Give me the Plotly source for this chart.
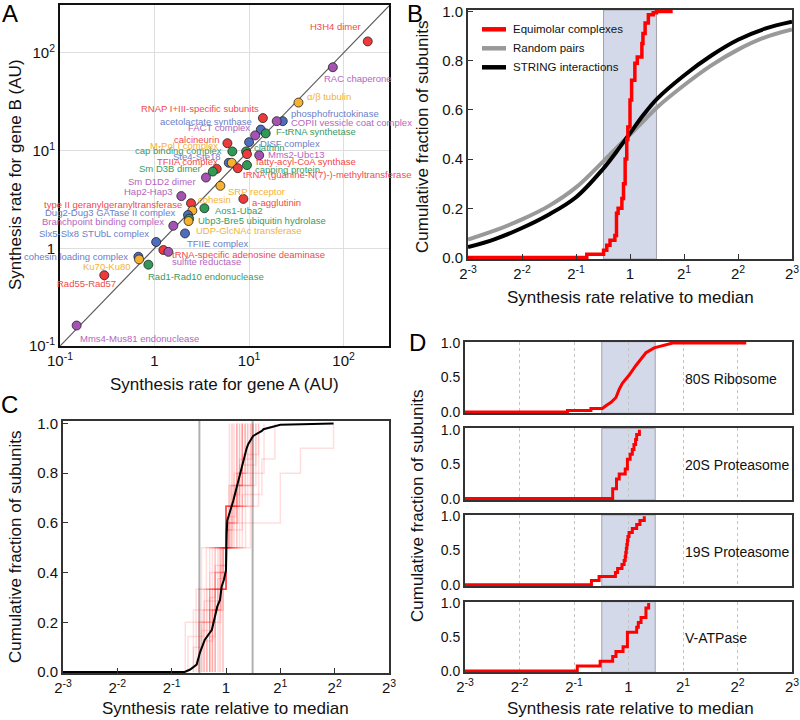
import numpy as np
import plotly.graph_objects as go

W, H = 800, 720

# ---------------- panel A: synthesis rates of the two genes in each pair
pair_names = [
    "H3H4 dimer", "RAC chaperone", "α/β tubulin", "RNAP I+III-specific subunits",
    "phosphofructokinase", "COPII vessicle coat complex", "acetolactate synthase",
    "F-tRNA synthetase", "FACT complex", "calcineurin", "DISF complex",
    "cap binding complex", "clathrin", "fatty-acyl-CoA synthase", "Mms2-Ubc13",
    "Ste4-Ste18", "M-Pol I complex", "capping protein",
    "tRNA (guanine-N(7)-)-methyltransferase", "TFIIA complex", "Sm D3B dimer",
    "Sm D1D2 dimer", "SRP receptor", "Hap2-Hap3", "a-agglutinin",
    "type II geranylgeranyltransferase", "cohesin", "Aos1-Uba2",
    "Dug2-Dug3 GATase II complex", "Ubp3-Bre5 ubiquitin hydrolase",
    "UDP-GlcNAc transferase", "Branchpoint binding complex", "TFIIE complex",
    "Slx5-Slx8 STUbL complex", "tRNA-specific adenosine deaminase",
    "sulfite reductase", "cohesin loading complex", "Ku70-Ku80",
    "Rad1-Rad10 endonuclease", "Rad55-Rad57", "Mms4-Mus81 endonuclease",
]
gene_a_rate = [180, 76.9, 33.3, 14.0, 22.7, 19.6, 13.3, 15.0, 11.6, 5.9, 10.0,
               6.65, 9.3, 9.5, 12.8, 6.1, 6.56, 9.5, 7.6, 4.55, 4.13,
               3.5, 4.97, 1.92, 8.7, 2.43, 2.51, 3.37, 2.26, 2.32,
               2.29, 1.58, 2.10, 1.04, 1.24, 1.40, 0.675, 0.686, 0.86, 0.294, 0.150]
gene_b_rate = [131, 71.3, 31.0, 21.5, 20.0, 20.0, 16.4, 15.0, 14.3, 11.9, 12.2,
               9.8, 9.8, 9.2, 8.95, 7.5, 7.5, 7.1, 6.6, 6.5, 6.1,
               5.3, 4.36, 3.42, 3.2, 2.89, 2.43, 2.57, 2.19, 2.01,
               1.90, 1.70, 1.42, 1.16, 0.96, 0.92, 0.82, 0.77, 0.68, 0.53, 0.162]
pair_group = ["red", "purple", "orange", "red", "blue", "purple", "blue",
              "green", "purple", "red", "blue", "green", "green", "red", "purple",
              "blue", "orange", "green", "red", "red", "green",
              "purple", "orange", "purple", "red", "red", "orange", "green",
              "blue", "green", "orange", "purple", "blue", "blue", "red",
              "purple", "blue", "orange", "green", "red", "purple"]

# where each label sits relative to its dot: anchor side, x shift, y shift (px)
label_pos = [("right", -5, 15), ("left", -11, -11), ("left", 7, 6), ("right", -2, 10),
             ("left", 6, 8), ("left", 12, -1), ("right", -7, 8), ("left", 8, 2),
             ("right", -3, 8), ("right", -6, 4), ("left", 9, -1), ("right", -8, 1),
             ("left", 6, 4), ("left", 7, -7), ("left", 7, 1), ("right", -6, 6),
             ("right", -12, 17), ("left", 6, -4), ("left", 3, -6), ("right", 3, 7),
             ("right", -10, 3), ("right", -8, -4), ("left", 6, -6), ("right", -6, 5),
             ("left", 7, -4), ("right", -7, -1), ("left", 4, 11), ("left", 9, -2),
             ("right", -11, 3), ("left", 7, -2), ("left", 5, -9), ("right", -7, 4),
             ("left", 0, -10), ("right", -5, 8), ("left", 7, -4), ("left", 2, -10),
             ("right", -8, 0), ("right", -6, -7), ("left", -2, -12), ("right", 14, -8),
             ("left", 1, -13)]

group_fill = {"red": "#ee3a3a", "blue": "#4e6dbf", "purple": "#a553b3",
              "green": "#2e9a55", "orange": "#f6b131"}
group_text = {"red": "#f14a4a", "blue": "#6b80c9", "purple": "#b565bd",
              "green": "#3b9a61", "orange": "#f4b236"}

# ---------------- panel B: cumulative distributions (x in log2 of rate / median)
smooth_log2 = [-3, -2.5, -2, -1.5, -1, -0.5, -0.25, 0, 0.25, 0.5, 1, 1.5, 2, 2.5, 3]
random_pairs_cdf = [0.073, 0.11, 0.155, 0.21, 0.285, 0.39, 0.445, 0.5, 0.555, 0.61,
                    0.70, 0.78, 0.845, 0.895, 0.927]
string_cdf = [0.042, 0.075, 0.12, 0.175, 0.245, 0.36, 0.43, 0.505, 0.58, 0.645,
              0.74, 0.82, 0.885, 0.93, 0.958]
equimolar_log2 = [-3, -0.80, -0.49, -0.43, -0.37, -0.28, -0.25, -0.22, -0.15, -0.12,
                  -0.09, -0.06, -0.04, 0.0, 0.03, 0.09, 0.135, 0.22, 0.24, 0.28,
                  0.34, 0.43, 0.49, 0.79]
equimolar_cdf = [0, 0.013, 0.03, 0.05, 0.07, 0.09, 0.18, 0.20, 0.24, 0.30,
                 0.40, 0.48, 0.53, 0.64, 0.72, 0.79, 0.815, 0.87, 0.91, 0.953,
                 0.987, 0.995, 1.0, 1.0]
band_log2 = [-0.49, 0.49]

# ---------------- panel C: per-complex CDFs (log2 of rate / complex median)
complex_log2 = [
    [-0.30, 0.30], [-0.12, 0.12], [-0.45, 0.45], [-0.20, 0.20], [-0.06, 0.06],
    [-0.36, 0.36], [-0.25, 0.25],
    [-0.40, 0.0, 0.30], [-0.20, 0.0, 0.15], [-0.55, 0.0, 0.50], [-0.10, 0.0, 0.35],
    [-0.30, 0.0, 0.20], [-0.25, 0.0, 0.60], [-0.15, 0.0, 0.10], [-0.50, 0.0, 0.25],
    [-0.35, 0.0, 0.40], [-0.05, 0.0, 0.20],
    [-0.42, -0.10, 0.10, 0.30], [-0.30, -0.05, 0.05, 0.45], [-0.60, -0.20, 0.20, 0.30],
    [-0.25, -0.15, 0.15, 0.55], [-0.20, -0.08, 0.08, 0.50],
    [-0.50, -0.20, 0.0, 0.15, 0.40], [-0.30, -0.10, 0.0, 0.20, 0.70],
    [-0.75, -0.30, 0.0, 0.22, 0.35],
    [-0.45, -0.30, -0.10, 0.10, 0.25, 0.55],
    [-0.70, -0.40, -0.20, 0.0, 0.30, 0.66, 0.90],
    [-0.35, -0.20, -0.10, 0.0, 0.12, 0.25, 0.48],
    [-0.40, -0.25, -0.15, -0.05, 0.05, 0.18, 0.30, 0.60],
    [-0.60, -0.45, -0.30, -0.20, -0.05, 0.05, 1.00, 1.00, 1.37, 1.98],
]
all_subunits_log2 = [-3, -0.76, -0.66, -0.54, -0.48, -0.39, -0.26, -0.20, -0.16, -0.11,
                     -0.08, -0.04, 0.0, 0.013, 0.024, 0.135, 0.21, 0.29, 0.38, 0.41,
                     0.50, 0.66, 0.69, 1.0, 1.98]
all_subunits_cdf = [0, 0, 0.01, 0.03, 0.078, 0.13, 0.17, 0.224, 0.264, 0.29,
                    0.344, 0.37, 0.41, 0.558, 0.61, 0.69, 0.758, 0.83, 0.90, 0.918,
                    0.95, 0.97, 0.977, 0.995, 1.0]

# ---------------- panel D: individual large complexes
ribosome_log2 = [-3, -1.12, -1.12, -0.69, -0.69, -0.48, -0.415, -0.32, -0.23, -0.17,
                 -0.11, 0.013, 0.136, 0.228, 0.32, 0.47, 0.595, 0.687, 0.81, 2.16]
ribosome_cdf = [0, 0, 0.02, 0.02, 0.05, 0.05, 0.09, 0.14, 0.21, 0.33,
                0.42, 0.535, 0.675, 0.77, 0.86, 0.93, 0.954, 0.98, 1.0, 1.0]
proteasome20s_log2 = [-0.29, -0.29, -0.22, -0.22, -0.17, -0.06, -0.02, -0.02, 0.03,
                      0.07, 0.10, 0.13, 0.15, 0.20]
proteasome19s_log2 = [-0.68, -0.54, -0.24, -0.20, -0.12, -0.08, -0.06, -0.05, -0.04,
                      -0.03, -0.02, -0.01, 0.01, 0.07, 0.15, 0.21, 0.29]
vatpase_log2 = [-0.94, -0.52, -0.29, -0.23, -0.10, -0.02, -0.02, -0.02, 0.15, 0.18,
                0.23, 0.32, 0.32, 0.37]
d_names = ["80S Ribosome", "20S Proteasome", "19S Proteasome", "V-ATPase"]

pow2_ticks = [-3, -2, -1, 0, 1, 2, 3]
pow2_text = ["2<sup>%d</sup>" % k if k != 0 else "1" for k in pow2_ticks]


def fx(p):
    return p / W


def fy(p):
    return 1 - p / H


def rel(v):
    return [2.0 ** t for t in v]


FONT = "Liberation Sans, Arial, Helvetica, sans-serif"
fig = go.Figure()

# ---- A
lo_a, hi_a = -1, 2.48
fig.add_trace(go.Scatter(x=[10 ** lo_a, 10 ** hi_a], y=[10 ** lo_a, 10 ** hi_a],
                         mode="lines", line=dict(color="#5a5a5a", width=1.2),
                         xaxis="x", yaxis="y", hoverinfo="skip"))
fig.add_trace(go.Scatter(x=gene_a_rate, y=gene_b_rate, mode="markers", text=pair_names,
                         marker=dict(size=9, color=[group_fill[g] for g in pair_group],
                                     line=dict(color="#222", width=0.8)),
                         xaxis="x", yaxis="y"))

annotations = []
for name, xa, yb, grp, (side, dx, dy) in zip(pair_names, gene_a_rate, gene_b_rate,
                                              pair_group, label_pos):
    annotations.append(dict(x=np.log10(xa), y=np.log10(yb), xref="x", yref="y",
                            text=name, showarrow=False, xanchor=side, yanchor="middle",
                            xshift=dx, yshift=dy,
                            font=dict(size=9.5, color=group_text[grp])))

# ---- B
fig.add_trace(go.Scatter(x=rel(smooth_log2), y=random_pairs_cdf, mode="lines",
                         line=dict(color="#999999", width=4, shape="spline"),
                         xaxis="x2", yaxis="y2"))
fig.add_trace(go.Scatter(x=rel(smooth_log2), y=string_cdf, mode="lines",
                         line=dict(color="black", width=4, shape="spline"),
                         xaxis="x2", yaxis="y2"))
fig.add_trace(go.Scatter(x=rel(equimolar_log2), y=equimolar_cdf, mode="lines",
                         line=dict(color="#ff0000", width=3.5, shape="hv"),
                         xaxis="x2", yaxis="y2"))

# ---- C
for vals in complex_log2:
    n = len(vals)
    xs = [vals[0]] + vals
    ys = [0] + [(i + 1) / n for i in range(n)]
    fig.add_trace(go.Scatter(x=rel(xs), y=ys, mode="lines",
                             line=dict(color="rgba(255,0,0,0.13)", width=1.5, shape="hv"),
                             xaxis="x3", yaxis="y3", hoverinfo="skip"))
fig.add_trace(go.Scatter(x=rel(all_subunits_log2), y=all_subunits_cdf, mode="lines",
                         line=dict(color="black", width=2),
                         xaxis="x3", yaxis="y3"))

# ---- D
fig.add_trace(go.Scatter(x=rel(ribosome_log2), y=ribosome_cdf, mode="lines",
                         line=dict(color="#ff0000", width=3),
                         xaxis="x4", yaxis="y4"))
for k, vals in enumerate([proteasome20s_log2, proteasome19s_log2, vatpase_log2]):
    n = len(vals)
    xs = [-3] + vals
    ys = [0] + [(i + 1) / n for i in range(n)]
    fig.add_trace(go.Scatter(x=rel(xs), y=ys, mode="lines",
                             line=dict(color="#ff0000", width=3, shape="hv"),
                             xaxis="x%d" % (k + 5), yaxis="y%d" % (k + 5)))

# ---------------- layout
tickfont = dict(size=15, color="#111")
frame = dict(showline=True, linecolor="#333", linewidth=2, mirror=True, zeroline=False,
             automargin=False)
pow2_range = [np.log10(1 / 8), np.log10(8)]

layout = dict(width=W, height=H, margin=dict(l=0, r=0, t=0, b=0, autoexpand=False),
              plot_bgcolor="white", paper_bgcolor="white", showlegend=False,
              font=dict(family=FONT, color="#111"))

layout["xaxis"] = dict(domain=[fx(60), fx(389)], anchor="y", type="log", range=[lo_a, hi_a],
                       tickvals=[0.1, 1, 10, 100],
                       ticktext=["10<sup>-1</sup>", "1", "10<sup>1</sup>", "10<sup>2</sup>"],
                       showgrid=True, gridcolor="#dedede", gridwidth=1, ticks="",
                       tickfont=tickfont, **dict(frame, linecolor="#111"))
layout["yaxis"] = dict(domain=[fy(346), fy(5)], anchor="x", type="log", range=[lo_a, 2.49],
                       tickvals=[0.1, 1, 10, 100],
                       ticktext=["10<sup>-1</sup>", "1", "10<sup>1</sup>", "10<sup>2</sup>"],
                       showgrid=True, gridcolor="#dedede", gridwidth=1, ticks="",
                       tickfont=tickfont, **dict(frame, linecolor="#111"))

layout["xaxis2"] = dict(domain=[fx(468), fx(792)], anchor="y2", type="log", range=pow2_range,
                        tickvals=rel(pow2_ticks), ticktext=pow2_text, ticks="inside",
                        ticklen=5, tickcolor="#333", showgrid=False, tickfont=tickfont, **frame)
layout["yaxis2"] = dict(domain=[fy(259), fy(10)], anchor="x2", range=[-0.006, 1.006],
                        tickvals=[0, 0.2, 0.4, 0.6, 0.8, 1.0],
                        ticktext=["0.0", "0.2", "0.4", "0.6", "0.8", "1.0"], ticks="inside",
                        ticklen=5, tickcolor="#333", showgrid=False, tickfont=tickfont, **frame)

layout["xaxis3"] = dict(domain=[fx(63), fx(389)], anchor="y3", type="log", range=pow2_range,
                        tickvals=rel(pow2_ticks), ticktext=pow2_text, ticks="inside",
                        ticklen=5, tickcolor="#333", showgrid=False, tickfont=tickfont, **frame)
layout["yaxis3"] = dict(domain=[fy(673), fy(421)], anchor="x3", range=[-0.004, 1.01],
                        tickvals=[0, 0.2, 0.4, 0.6, 0.8, 1.0],
                        ticktext=["0.0", "0.2", "0.4", "0.6", "0.8", "1.0"], ticks="inside",
                        ticklen=5, tickcolor="#333", showgrid=False, tickfont=tickfont, **frame)

d_rows = [(341.7, 413.3), (428.3, 500), (515, 586), (601.7, 672.3)]
for k, (top, bot) in enumerate(d_rows):
    i = k + 4
    layout["xaxis%d" % i] = dict(domain=[fx(465), fx(792)], anchor="y%d" % i, type="log",
                                 range=pow2_range, tickvals=rel(pow2_ticks), ticktext=pow2_text,
                                 showticklabels=(k == 3), ticks="", showgrid=True,
                                 gridcolor="#c4c4c4", griddash="dot", gridwidth=1,
                                 tickfont=tickfont, layer="below traces", **frame)
    layout["yaxis%d" % i] = dict(domain=[fy(bot), fy(top)], anchor="x%d" % i,
                                 range=[-0.02, 1.02], tickvals=[0, 0.5, 1.0],
                                 ticktext=["0.0", "0.5", "1.0"], ticks="", showgrid=False,
                                 tickfont=dict(size=14, color="#111"),
                                 layer="below traces", **frame)

shapes = []
band = rel(band_log2)
shapes.append(dict(type="rect", xref="x2", yref="y2 domain", x0=band[0], x1=band[1], y0=0, y1=1,
                   fillcolor="#d4d9ea", line=dict(color="#a0a0a8", width=1), layer="below"))
for i in range(4, 8):
    shapes.append(dict(type="rect", xref="x%d" % i, yref="y%d domain" % i, x0=band[0], x1=band[1],
                       y0=0, y1=1, fillcolor="#d4d9ea", line=dict(color="#a0a0a8", width=1),
                       layer="below"))
for b in band:
    shapes.append(dict(type="line", xref="x3", yref="y3 domain", x0=b, x1=b, y0=0, y1=1,
                       line=dict(color="rgba(150,150,150,0.75)", width=2), layer="below"))

# legend of panel B, drawn by hand
legend_items = [("Equimolar complexes", "#ff0000"), ("Random pairs", "#999999"),
                ("STRING interactions", "black")]
for j, (lab, col) in enumerate(legend_items):
    yy = 29.3 + 19 * j
    shapes.append(dict(type="line", xref="paper", yref="paper", x0=fx(482), x1=fx(506),
                       y0=fy(yy), y1=fy(yy), line=dict(color=col, width=4.5)))
    annotations.append(dict(x=fx(511), y=fy(yy), xref="paper", yref="paper", text=lab,
                            showarrow=False, xanchor="left", yanchor="middle",
                            font=dict(size=11.5, color="#111")))

# panel letters
for letter, (px, py) in zip("ABCD", [(10, 13), (415, 13), (9, 404), (417, 342)]):
    annotations.append(dict(x=fx(px), y=fy(py), xref="paper", yref="paper", text=letter,
                            showarrow=False, xanchor="center", yanchor="middle",
                            font=dict(size=24, color="black")))

# axis titles
title_font = dict(size=17, color="#111")
for text, px, py, ang in [("Synthesis rate for gene B (AU)", 15, 175, -90),
                          ("Synthesis rate for gene A (AU)", 224, 384, 0),
                          ("Cumulative fraction of subunits", 422, 137, -90),
                          ("Synthesis rate relative to median", 630, 297, 0),
                          ("Cumulative fraction of subunits", 15, 547, -90),
                          ("Synthesis rate relative to median", 226, 708, 0),
                          ("Cumulative fraction of subunits", 418, 506, -90),
                          ("Synthesis rate relative to median", 630, 708, 0)]:
    annotations.append(dict(x=fx(px), y=fy(py), xref="paper", yref="paper", text=text,
                            showarrow=False, textangle=ang, xanchor="center",
                            yanchor="middle", font=title_font))

# complex names in panel D
for name, (top, bot) in zip(d_names, d_rows):
    annotations.append(dict(x=fx(683), y=fy((top + bot) / 2 + 1), xref="paper", yref="paper",
                            text=name, showarrow=False, xanchor="left", yanchor="middle",
                            font=dict(size=14, color="#111")))

layout["shapes"] = shapes
layout["annotations"] = annotations
fig.update_layout(**layout)

# the page's default body margin would push the 800x720 figure off the window
fig.write_html("out.html", config={"displayModeBar": False},
               post_script="document.body.style.margin = '0px';")
